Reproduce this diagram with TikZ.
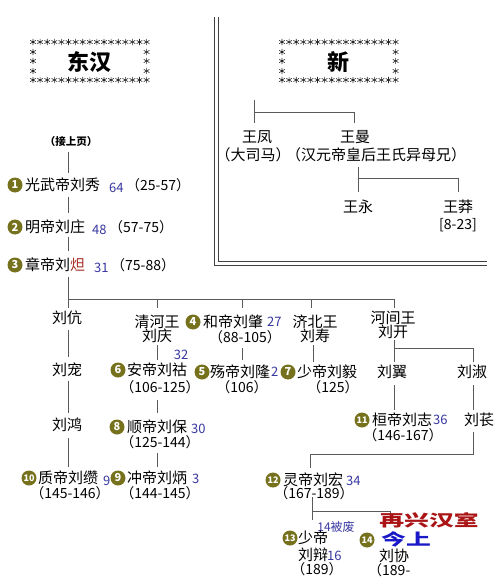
\documentclass[tikz,border=0pt]{standalone}
\usepackage{fontspec}
\setmainfont{Noto Sans CJK SC}
\definecolor{badgecol}{RGB}{118,113,28}
\definecolor{ageblue}{RGB}{55,55,160}
\definecolor{linecol}{RGB}{90,90,90}
\definecolor{zhred}{RGB}{165,45,35}
\definecolor{bigred}{RGB}{170,20,20}
\definecolor{bigblue}{RGB}{25,25,200}
\begin{document}
\begin{tikzpicture}[x=1pt,y=-1pt,
  line/.style={draw=linecol,line width=0.9pt},
  dline/.style={draw=black!75,line width=0.8pt},
  nm/.style={inner sep=0pt,font=\fontsize{15}{15}\selectfont},
  nmw/.style={nm,anchor=west},
  two/.style={nm,align=center,font=\fontsize{15}{14}\selectfont},
  yr/.style={inner sep=0pt,font=\fontsize{14}{14}\selectfont},
  yrw/.style={yr,anchor=west},
  age/.style={inner sep=0pt,anchor=west,text=ageblue,font=\fontsize{13}{14}\selectfont},
  badge/.style={circle,fill=badgecol,text=white,inner sep=0pt,minimum size=15pt,font=\fontsize{11}{11}\selectfont\bfseries},
  badgeb/.style={badge,font=\fontsize{9}{9}\selectfont\bfseries},
  title/.style={inner sep=0pt,font=\fontsize{22}{22}\selectfont\bfseries},
  big/.style={inner sep=0pt,font=\fontsize{16}{16}\selectfont\bfseries,xscale=1.55},
  astk/.pic={\draw[black!85,line width=0.6pt] (0,-3.2)--(0,3.2) (-2.8,-1.6)--(2.8,1.6) (-2.8,1.6)--(2.8,-1.6);}
]
\useasboundingbox (0,0) rectangle (500,588);

% ---- double L frame
\draw[dline] (214,17) -- (214,265) -- (487,265);
\draw[dline] (218,17) -- (218,261) -- (487,261);

% ---- title boxes
\foreach \i in {0,...,16} {
  \pic at ({33+\i*7.1},42) {astk};
  \pic at ({33+\i*7.1},80) {astk};
  \pic at ({282+\i*7.1},42) {astk};
  \pic at ({282+\i*7.1},80) {astk};
}
\foreach \yy in {52,61,71} {
  \pic at (33,\yy) {astk};
  \pic at (146.6,\yy) {astk};
  \pic at (282,\yy) {astk};
  \pic at (395.6,\yy) {astk};
}
\node[title] (dh) at (89,62) {东汉};
\node[title] (xin) at (338,62) {新};

% ---- Xin tree
\node[nm] (wf) at (257,137) {王凤};
\node[nm] (wf2) at (253,155) {（大司马）};
\node[nm] (wm) at (355,137) {王曼};
\node[nm] (wm2) at (376,155) {（汉元帝皇后王氏异母兄）};
\node[nm] (wy) at (358,207) {王永};
\node[nm] (wmang) at (458,207) {王莽};
\node[yr] (wmy) at (458,225) {[8-23]};
\coordinate (xa) at (254,100);
\coordinate (xb) at (254,112);
\draw[line] (xa) -- (254,123);
\draw[line] (xb) -- (354,112) -- (354,123);
\coordinate (wc) at (358,178);
\draw[line] (358,167) -- (358,192);
\draw[line] (wc) -- (458,178) -- (458,192);

% ---- column 1 top
\node[inner sep=0pt,font=\fontsize{10.5}{11}\selectfont\bfseries] (jsy) at (71,142) {（接上页）};
\node[badge] (b1) at (15,185) {1};
\node[nmw] (n1) at (25,185) {光武帝刘秀};
\node[age] (a1) at (109,188) {64};
\node[yrw] (y1) at (126,185) {（25-57）};
\node[badge] (b2) at (15,227) {2};
\node[nmw] (n2) at (25,227) {明帝刘庄};
\node[age] (a2) at (92,230) {48};
\node[yrw] (y2) at (109,227) {（57-75）};
\node[badge] (b3) at (15,265) {3};
\node[nmw] (n3) at (25,265) {章帝刘\textcolor{zhred}{炟}};
\node[age] (a3) at (94,268) {31};
\node[yrw] (y3) at (111,265) {（75-88）};
\draw[line] (68,152) -- (68,173);
\draw[line] (68,197) -- (68,213);
\draw[line] (68,237) -- (68,251);
\coordinate (barL) at (68,299);
\coordinate (barR) at (394,299);
\draw[line] (68,277) -- (barL) -- (barR);

% ---- column 1
\node[nm] (lk) at (67,318) {刘伉};
\node[nm] (lc) at (67,370) {刘宠};
\node[nm] (lh) at (67,425) {刘鸿};
\node[badgeb] (b10) at (29,478) {10};
\node[nmw] (n10) at (38,478) {质帝刘缵};
\node[age] (a10) at (103,481) {9};
\node[yr] (y10) at (70,493) {（145-146）};
\draw[line] (barL) -- (68,308);
\draw[line] (68,330) -- (68,357);
\draw[line] (68,381) -- (68,413);
\draw[line] (68,438) -- (68,467);

% ---- column 2
\node[two] (qh) at (157,328.5) {清河王\\刘庆};
\node[age,anchor=center] (a6) at (181,355) {32};
\node[badge] (b6) at (118,370) {6};
\node[nmw] (n6) at (127,370) {安帝刘祜};
\node[yr] (y6) at (160,387) {（106-125）};
\node[badge] (b8) at (117,427) {8};
\node[nmw] (n8) at (127,427) {顺帝刘保};
\node[age] (a8) at (191,429) {30};
\node[yr] (y8) at (160,442) {（125-144）};
\node[badge] (b9) at (118,478) {9};
\node[nmw] (n9) at (127,478) {冲帝刘炳};
\node[age] (a9) at (192,479) {3};
\node[yr] (y9) at (160,493) {（144-145）};
\draw[line] (157,299) -- (157,308);
\draw[line] (157,345) -- (157,360);
\draw[line] (157,400) -- (157,413);
\draw[line] (157,453) -- (157,467);

% ---- column 3
\node[badge] (b4) at (193,322) {4};
\node[nmw] (n4) at (203,322) {和帝刘肇};
\node[age] (a4) at (267,322) {27};
\node[yr] (y4) at (245,337) {（88-105）};
\node[badge] (b5) at (202,372) {5};
\node[nmw] (n5) at (210,372) {殇帝刘隆};
\node[age] (a5) at (271,372) {2};
\node[yr] (y5) at (242,387) {（106）};
\draw[line] (242,299) -- (242,308);
\draw[line] (242,348) -- (242,360);

% ---- column 4
\node[two] (jb) at (315,328.5) {济北王\\刘寿};
\node[badge] (b7) at (288,372) {7};
\node[nmw] (n7) at (297,372) {少帝刘毅};
\node[yr] (y7) at (333,387) {（125）};
\draw[line] (311,299) -- (311,308);
\draw[line] (313,345) -- (313,362);

% ---- column 5
\node[two] (hj) at (393,325) {河间王\\刘开};
\node[nm] (ly) at (392,372) {刘翼};
\node[nm] (ls) at (472,372) {刘淑};
\node[badgeb] (b11) at (362,420) {11};
\node[nmw] (n11) at (372,420) {桓帝刘志};
\node[age] (a11) at (433,420) {36};
\node[yr] (y11) at (403,435) {（146-167）};
\node[nm] (lch) at (479,420) {刘苌};
\coordinate (hjb) at (394,348);
\draw[line] (barR) -- (394,308);
\draw[line] (394,340) -- (394,362);
\draw[line] (hjb) -- (473,348) -- (473,362);
\draw[line] (394,385) -- (394,410);
\draw[line] (473,385) -- (473,410);
\draw[line] (473,432) -- (473,454) -- (310,454) -- (310,468);

% ---- bottom
\node[badgeb] (b12) at (273,480) {12};
\node[nmw] (n12) at (283,480) {灵帝刘宏};
\node[age] (a12) at (346,481) {34};
\node[yr] (y12) at (314,493) {（167-189）};
\coordinate (lb) at (312,511);
\draw[line] (312,497) -- (312,520);
\draw[line] (lb) -- (390,511) -- (390,516);
\node[inner sep=0pt,text=ageblue,font=\fontsize{12}{12}\selectfont] (fei) at (336,527) {14被废};
\node[big,text=bigred] (zx) at (429,520) {再兴汉室};
\node[big,text=bigblue] (js) at (406,539) {今上};
\node[badgeb] (b13) at (290,538) {13};
\node[nmw] (n13) at (298,538) {少帝};
\node[nmw] (n13b) at (298,555) {刘辩};
\node[age] (a13) at (327,556) {16};
\node[yr] (y13) at (317,569) {（189）};
\node[badgeb] (b14) at (367,540) {14};
\node[nm] (n14) at (394,556) {刘协};
\node[yrw] (y14) at (368,570) {（189-};
\end{tikzpicture}
\end{document}
